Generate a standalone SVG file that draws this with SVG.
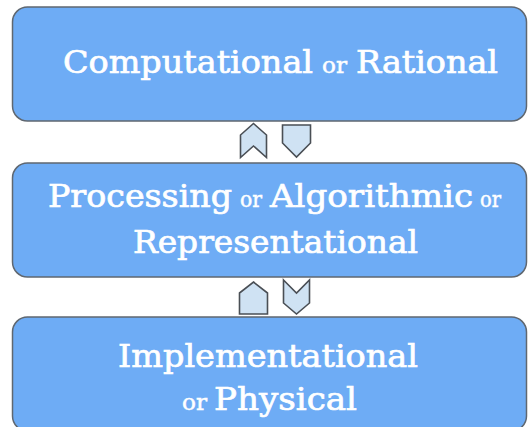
<svg xmlns="http://www.w3.org/2000/svg" width="528" height="427" viewBox="0 0 528 427">
  <style>
    .box { fill: #6eacf5; stroke: #5f6770; stroke-width: 1.5; }
    .arr { fill: #cfe2f3; stroke: #4a4f55; stroke-width: 1.6; stroke-linejoin: miter; }
    .big { font-family: "DejaVu Serif", "Liberation Serif", serif; font-size: 31px; fill: #ffffff; stroke: #ffffff; stroke-width: 0.7; }
    .sm  { font-family: "DejaVu Serif", "Liberation Serif", serif; font-size: 22px; fill: #ffffff; stroke: #ffffff; stroke-width: 0.5; }
  </style>

  <!-- Level 1 -->
  <g id="computational">
    <rect class="box" x="12.5" y="7" width="514" height="114" rx="15"/>
    <text class="big" x="63" y="73" textLength="250" lengthAdjust="spacingAndGlyphs">Computational</text>
    <text class="sm" x="322" y="73" textLength="25" lengthAdjust="spacingAndGlyphs">or</text>
    <text class="big" x="356" y="73" textLength="142" lengthAdjust="spacingAndGlyphs">Rational</text>
  </g>

  <!-- Level 2 -->
  <g id="processing">
    <rect class="box" x="12.5" y="163" width="514" height="114" rx="15"/>
    <text class="big" x="48" y="207" textLength="184" lengthAdjust="spacingAndGlyphs">Processing</text>
    <text class="sm" x="240" y="207" textLength="22" lengthAdjust="spacingAndGlyphs">or</text>
    <text class="big" x="270" y="207" textLength="203" lengthAdjust="spacingAndGlyphs">Algorithmic</text>
    <text class="sm" x="480" y="207" textLength="21" lengthAdjust="spacingAndGlyphs">or</text>
    <text class="big" x="133" y="253" textLength="285" lengthAdjust="spacingAndGlyphs">Representational</text>
  </g>

  <!-- Level 3 -->
  <g id="implementational">
    <rect class="box" x="12.5" y="317" width="514" height="114" rx="15"/>
    <text class="big" x="118" y="367" textLength="300" lengthAdjust="spacingAndGlyphs">Implementational</text>
    <text class="sm" x="182" y="410" textLength="25" lengthAdjust="spacingAndGlyphs">or</text>
    <text class="big" x="214" y="410" textLength="143" lengthAdjust="spacingAndGlyphs">Physical</text>
  </g>

  <!-- Arrows between levels -->
  <g id="connectors">
    <!-- between level 1 and 2 -->
    <polygon class="arr" points="253.5,123.5 266.5,135 266.5,157.5 253.5,146 240.5,157.5 240.5,135"/>
    <polygon class="arr" points="282.5,125 310.5,125 310.5,143 296.5,157 282.5,143"/>
    <!-- between level 2 and 3 -->
    <polygon class="arr" points="253.5,282 267.5,293 267.5,314 239.5,314 239.5,293"/>
    <polygon class="arr" points="283.5,280 296.5,293 309.5,280 309.5,303 296.5,314 283.5,303"/>
  </g>
</svg>
